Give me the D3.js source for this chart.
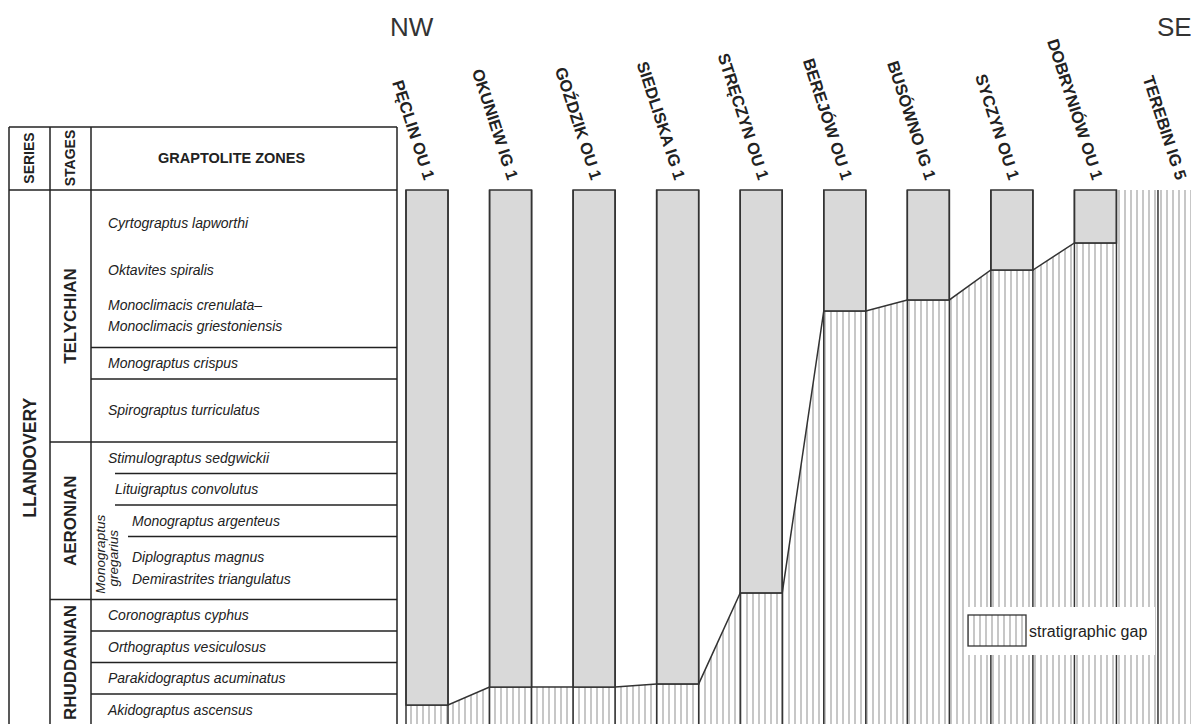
<!DOCTYPE html>
<html>
<head>
<meta charset="utf-8">
<script src="https://cdn.jsdelivr.net/npm/d3@7"></script>
<style>
  body { margin: 0; background: #fff; }
  text { font-family: "Liberation Sans", Arial, sans-serif; fill: #222; }
</style>
</head>
<body>
<svg id="chart"></svg>
<script>
// boreholes, NW -> SE
const boreholes = ['PĘCLIN OU 1', 'OKUNIEW IG 1', 'GOŹDZIK OU 1', 'SIEDLISKA IG 1', 'STRĘCZYN OU 1',
  'BEREJÓW OU 1', 'BUSÓWNO IG 1', 'SYCZYN OU 1', 'DOBRYNIÓW OU 1', 'TEREBIN IG 5'];
// top of the stratigraphic gap, in zone units counted down from the top of the Telychian
const gapTop = [16.35, 15.78, 15.78, 15.68, 12.79, 3.84, 3.49, 2.54, 1.68, 0];

const zoneNames = ['Cyrtograptus lapworthi', 'Oktavites spiralis', 'Monoclimacis crenulata–',
  'Monoclimacis griestoniensis', 'Monograptus crispus', 'Spirograptus turriculatus',
  'Stimulograptus sedgwickii', 'Lituigraptus convolutus', 'Monograptus argenteus',
  'Diplograptus magnus', 'Demirastrites triangulatus', 'Coronograptus cyphus',
  'Orthograptus vesiculosus', 'Parakidograptus acuminatus', 'Akidograptus ascensus'];
const zoneLabelDepth = [1.05, 2.54, 3.65, 4.32, 5.5, 7.0, 8.5, 9.5, 10.5, 11.65, 12.35, 13.5, 14.5, 15.5, 16.5];
const zoneIndent = [0, 0, 0, 0, 0, 0, 0, 1, 2, 2, 2, 0, 0, 0, 0];
const zoneLines = [5, 6, 14, 15, 16];
const gregariusLines = [9, 10, 11];
const gregariusRange = [10, 13];

const stages = ['TELYCHIAN', 'AERONIAN', 'RHUDDANIAN'];
const stageTop = [0, 8, 13];
const stageBase = [8, 13, 17];
const seriesName = 'LLANDOVERY';
const totalDepth = 17;

const W = 1191, H = 724;
const tableX = [9, 50, 91, 397];
const headTop = 127, bottom = 760;

const svg = d3.select('#chart').attr('width', W).attr('height', H);

const y = d3.scaleLinear().domain([0, totalDepth]).range([190, 725.5]);
const x = d3.scaleBand().domain(boreholes).range([406, 1200]).paddingInner(0.497).paddingOuter(0);
const bw = x.bandwidth();

// hatch pattern for the gap
const defs = svg.append('defs');
const pat = defs.append('pattern')
    .attr('id', 'hatch')
    .attr('patternUnits', 'userSpaceOnUse')
    .attr('width', 6).attr('height', 10);
pat.append('rect').attr('width', 6).attr('height', 10).attr('fill', '#fff');
pat.append('line')
    .attr('x1', 3).attr('x2', 3).attr('y1', 0).attr('y2', 10)
    .attr('stroke', '#bdbdbd').attr('stroke-width', 1.7);

// ---- borehole columns ----
const cols = boreholes.map((b, i) => ({ name: b, gap: gapTop[i] }));

const hatchPts = [[x(boreholes[0]), bottom]];
cols.forEach((d, i) => {
  if (d.gap === 0 && i > 0) {
    hatchPts.push([x(boreholes[i - 1]) + bw, y(0)]);
    hatchPts.push([x(d.name) + bw, y(0)]);
  } else {
    hatchPts.push([x(d.name), y(d.gap)]);
    hatchPts.push([x(d.name) + bw, y(d.gap)]);
  }
});
hatchPts.push([x(boreholes[boreholes.length - 1]) + bw, bottom]);

svg.append('path')
    .attr('d', d3.line()(hatchPts) + 'Z')
    .attr('fill', 'url(#hatch)');

// gap boundary
const edgePts = [];
cols.filter(d => d.gap > 0).forEach(d => {
  edgePts.push([x(d.name), y(d.gap)]);
  edgePts.push([x(d.name) + bw, y(d.gap)]);
});
svg.append('path')
    .attr('d', d3.line()(edgePts))
    .attr('fill', 'none').attr('stroke', '#333').attr('stroke-width', 1.5);

svg.selectAll('.core')
    .data(cols.filter(d => d.gap > 0))
  .join('rect')
    .attr('class', 'core')
    .attr('x', d => x(d.name))
    .attr('y', y(0))
    .attr('width', bw)
    .attr('height', d => y(d.gap) - y(0))
    .attr('fill', '#d9d9d9')
    .attr('stroke', '#333').attr('stroke-width', 1.5);

const edges = [];
boreholes.forEach(b => { edges.push(x(b)); edges.push(x(b) + bw); });
svg.selectAll('.edge')
    .data(edges)
  .join('line')
    .attr('class', 'edge')
    .attr('x1', d => d).attr('x2', d => d)
    .attr('y1', y(0)).attr('y2', bottom)
    .attr('stroke', '#333').attr('stroke-width', 1.5);

svg.selectAll('.bh-label')
    .data(boreholes)
  .join('text')
    .attr('class', 'bh-label')
    .attr('transform', d => `translate(${x(d) + bw / 2 - 3},181) rotate(72)`)
    .attr('text-anchor', 'end')
    .style('font-size', '16.5px')
    .style('font-weight', 'bold')
    .text(d => d);

svg.append('text').attr('x', 390).attr('y', 36)
    .style('font-size', '26px').style('fill', '#333').text('NW');
svg.append('text').attr('x', 1157).attr('y', 36)
    .style('font-size', '26px').style('fill', '#333').text('SE');

// legend
const lg = svg.append('g').attr('transform', 'translate(965,607)');
lg.append('rect').attr('width', 190).attr('height', 48).attr('fill', '#fff');
lg.append('rect').attr('x', 3).attr('y', 8).attr('width', 58).attr('height', 31)
    .attr('fill', 'url(#hatch)').attr('stroke', '#333').attr('stroke-width', 1.3);
lg.append('text').attr('x', 64).attr('y', 30).style('font-size', '16px').text('stratigraphic gap');

// ---- stratigraphic table ----
const tbl = svg.append('g').attr('stroke', '#222').attr('stroke-width', 1.5);
tbl.append('line').attr('x1', tableX[0]).attr('x2', tableX[3]).attr('y1', headTop).attr('y2', headTop);
tbl.append('line').attr('x1', tableX[0]).attr('x2', tableX[3]).attr('y1', y(0)).attr('y2', y(0));
tableX.forEach(v => {
  tbl.append('line').attr('x1', v).attr('x2', v).attr('y1', headTop).attr('y2', bottom);
});
stageTop.slice(1).forEach(d => {
  tbl.append('line').attr('x1', tableX[1]).attr('x2', tableX[3]).attr('y1', y(d)).attr('y2', y(d));
});
zoneLines.forEach(d => {
  tbl.append('line').attr('x1', tableX[2]).attr('x2', tableX[3]).attr('y1', y(d)).attr('y2', y(d));
});
gregariusLines.forEach((d, i) => {
  tbl.append('line').attr('x1', i < 2 ? 115 : 128).attr('x2', tableX[3]).attr('y1', y(d)).attr('y2', y(d));
});

// header
svg.append('text')
    .attr('transform', `translate(${(tableX[0] + tableX[1]) / 2},158) rotate(-90)`)
    .attr('text-anchor', 'middle').attr('dy', '0.35em')
    .style('font-size', '14px').style('font-weight', 'bold').text('SERIES');
svg.append('text')
    .attr('transform', `translate(${(tableX[1] + tableX[2]) / 2},158) rotate(-90)`)
    .attr('text-anchor', 'middle').attr('dy', '0.35em')
    .style('font-size', '14px').style('font-weight', 'bold').text('STAGES');
svg.append('text')
    .attr('x', 158).attr('y', 158).attr('dy', '0.35em')
    .style('font-size', '14.5px').style('font-weight', 'bold').text('GRAPTOLITE ZONES');

svg.append('text')
    .attr('transform', `translate(${(tableX[0] + tableX[1]) / 2},${y(totalDepth / 2)}) rotate(-90)`)
    .attr('text-anchor', 'middle').attr('dy', '0.35em')
    .style('font-size', '17.5px').style('font-weight', 'bold').text(seriesName);

svg.selectAll('.stage')
    .data(stages)
  .join('text')
    .attr('class', 'stage')
    .attr('transform', (d, i) => `translate(${(tableX[1] + tableX[2]) / 2},${y((stageTop[i] + stageBase[i]) / 2)}) rotate(-90)`)
    .attr('text-anchor', 'middle').attr('dy', '0.35em')
    .style('font-size', '17px').style('font-weight', 'bold')
    .text(d => d);

svg.selectAll('.zone')
    .data(zoneNames)
  .join('text')
    .attr('class', 'zone')
    .attr('x', (d, i) => [108, 115, 132][zoneIndent[i]])
    .attr('y', (d, i) => y(zoneLabelDepth[i]))
    .attr('dy', '0.35em')
    .style('font-size', '14px').style('font-style', 'italic')
    .text(d => d);

// Monograptus gregarius, written sideways
const greg = svg.append('text')
    .attr('transform', `translate(100,${y((gregariusRange[0] + gregariusRange[1]) / 2) + 2}) rotate(-90)`)
    .attr('text-anchor', 'middle')
    .style('font-size', '13.5px').style('font-style', 'italic');
greg.append('tspan').attr('x', 0).attr('dy', '0.35em').text('Monograptus');
greg.append('tspan').attr('x', -4).attr('dy', '1.0em').text('gregarius');
</script>
</body>
</html>
